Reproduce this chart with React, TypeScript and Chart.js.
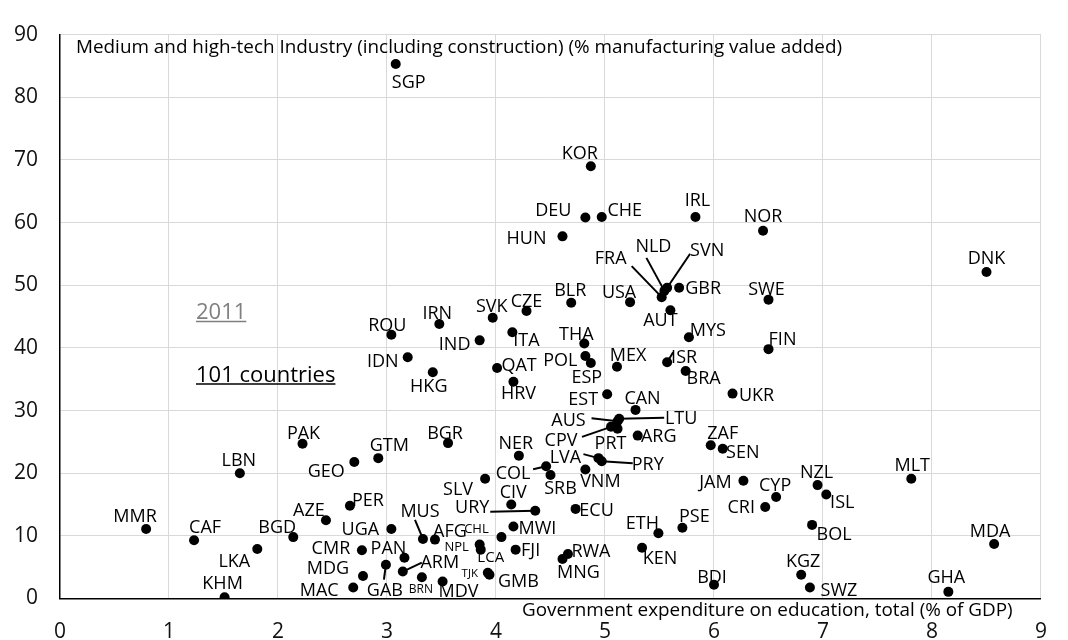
import React, { useEffect, useRef } from "react";
import { Chart, registerables } from "chart.js";

Chart.register(...registerables);

// ---------------- data ----------------
const countries = [
  "SGP", "KOR", "DEU", "CHE", "IRL", "NOR", "HUN", "FRA", "NLD", "SVN",
  "GBR", "DNK", "BLR", "USA", "SWE", "AUT", "CZE", "SVK", "IRN", "ROU",
  "IND", "ITA", "THA", "MYS", "FIN", "IDN", "HKG", "QAT", "POL", "ESP",
  "MEX", "ISR", "BRA", "HRV", "EST", "CAN", "UKR", "AUS", "LTU", "CPV",
  "PRT", "ARG", "ZAF", "SEN", "PAK", "BGR", "NER", "LBN", "GTM", "GEO",
  "LVA", "PRY", "COL", "SRB", "VNM", "SLV", "JAM", "NZL", "MLT", "CYP",
  "ISL", "CRI", "MMR", "PER", "AZE", "CIV", "URY", "ECU", "CAF", "BGD",
  "UGA", "MUS", "AFG", "CHL", "MWI", "ETH", "PSE", "BOL", "MDA", "NPL",
  "LCA", "FJI", "CMR", "PAN", "LKA", "ARM", "RWA", "KEN", "MNG", "MDG",
  "KGZ", "GAB", "TJK", "GMB", "BRN", "MDV", "MAC", "BDI", "SWZ", "GHA",
  "KHM",
];

// Government expenditure on education, total (% of GDP)
const eduExpenditure = [
  3.08, 4.87, 4.82, 4.97, 5.83, 6.45, 4.61, 5.52, 5.545, 5.57,
  5.68, 8.50, 4.69, 5.23, 6.50, 5.60, 4.28, 3.97, 3.48, 3.04,
  3.85, 4.15, 4.81, 5.77, 6.50, 3.19, 3.42, 4.01, 4.82, 4.87,
  5.11, 5.57, 5.74, 4.16, 5.02, 5.28, 6.17, 5.115, 5.13, 5.055,
  5.115, 5.30, 5.97, 6.08, 2.225, 3.56, 4.21, 1.65, 2.92, 2.70,
  4.94, 4.97, 4.46, 4.50, 4.82, 3.90, 6.27, 6.95, 7.81, 6.57,
  7.03, 6.47, 0.79, 2.66, 2.44, 4.14, 4.36, 4.73, 1.23, 2.14,
  3.04, 3.33, 3.44, 4.05, 4.16, 5.49, 5.71, 6.90, 8.57, 3.85,
  3.86, 4.18, 2.77, 3.16, 1.81, 3.145, 4.66, 5.34, 4.61, 2.78,
  6.80, 2.99, 3.925, 3.94, 3.32, 3.51, 2.69, 6.00, 6.88, 8.15,
  1.51,
];

// Medium and high-tech industry (% manufacturing value added)
const medHighTech = [
  85.3, 69.0, 60.8, 60.9, 60.9, 58.7, 57.8, 48.1, 49.1, 49.6,
  49.6, 52.1, 47.2, 47.3, 47.7, 46.0, 45.9, 44.8, 43.8, 42.1,
  41.2, 42.5, 40.7, 41.7, 39.8, 38.5, 36.1, 36.8, 38.7, 37.6,
  37.0, 37.7, 36.3, 34.6, 32.6, 30.1, 32.7, 28.3, 28.7, 27.4,
  27.1, 26.0, 24.45, 23.9, 24.7, 24.8, 22.8, 20.0, 22.4, 21.8,
  22.4, 21.9, 21.1, 19.7, 20.6, 19.1, 18.8, 18.1, 19.1, 16.2,
  16.6, 14.6, 11.1, 14.8, 12.5, 15.0, 14.0, 14.3, 9.3, 9.8,
  11.1, 9.5, 9.4, 9.8, 11.5, 10.4, 11.3, 11.75, 8.7, 8.6,
  7.8, 7.8, 7.7, 6.5, 7.9, 4.3, 7.1, 8.1, 6.3, 3.6,
  3.8, 5.4, 4.1, 3.8, 3.4, 2.7, 1.75, 2.2, 1.75, 1.06,
  0.2,
];

const xTickValues = [0, 1, 2, 3, 4, 5, 6, 7, 8, 9];
const yTickValues = [0, 10, 20, 30, 40, 50, 60, 70, 80, 90];

const xTitle = "Government expenditure on education, total (% of GDP)";
const yTitle =
  "Medium and high-tech Industry (including construction) (% manufacturing value added)";
const yearNote = "2011";
const countNote = "101 countries";

// ---------------- label styling (pixel offsets from each dot) ----------------
const FONT = '"Open Sans", "DejaVu Sans", sans-serif';
const LABEL_SIZE = 18;

const labelOffset: Record<string, number[]> = {
  SGP: [13, 18], KOR: [-11, -14], DEU: [-32, -8], CHE: [23, -7], IRL: [2, -17],
  NOR: [0, -15], HUN: [-36, 1], FRA: [-51, -40], NLD: [-11, -45], SVN: [40, -38],
  GBR: [24, 0], DNK: [0, -14], BLR: [-1, -13], USA: [-11, -11], SWE: [-2, -11],
  AUT: [-10, 9], CZE: [0, -10], SVK: [-1, -12], IRN: [-2, -11], ROU: [-4, -10],
  IND: [-25, 3], ITA: [14, 7], THA: [-8, -10], MYS: [19, -8], FIN: [14, -11],
  IDN: [-25, 3], HKG: [-4, 13], QAT: [22, -3], POL: [-25, 4], ESP: [-4, 14],
  MEX: [11, -12], ISR: [17, -6], BRA: [18, 7], HRV: [5, 11], EST: [-24, 4],
  CAN: [7, -12], UKR: [24, 1], AUS: [-49, -2], LTU: [62, -1], CPV: [-50, 13],
  PRT: [-7, 14], ARG: [21, 0], ZAF: [12, -13], SEN: [20, 3], PAK: [1, -11],
  BGR: [-3, -11], NER: [-3, -13], LBN: [-1, -14], GTM: [11, -14], GEO: [-28, 9],
  LVA: [-33, -2], PRY: [46, 2], COL: [-33, 6], SRB: [10, 13], VNM: [15, 11],
  SLV: [-27, 10], JAM: [-28, 1], NZL: [-1, -14], MLT: [1, -14], CYP: [-1, -12],
  ISL: [16, 7], CRI: [-24, 0], MMR: [-11, -13], PER: [18, -6], AZE: [-17, -11],
  CIV: [2, -13], URY: [-63, -4], ECU: [21, 1], CAF: [11, -14], BGD: [-16, -11],
  UGA: [-31, 0], MUS: [-3, -28], AFG: [15, -9], CHL: [-25, -9, 13], MWI: [24, 1],
  ETH: [-16, -11], PSE: [12, -12], BOL: [22, 9], MDA: [-4, -13], NPL: [-23, 2, 13],
  LCA: [10, 7, 15], FJI: [15, 0], CMR: [-31, -3], PAN: [-16, -10], LKA: [-23, 12],
  ARM: [37, -10], RWA: [23, -3], KEN: [18, 10], MNG: [16, 13], MDG: [-35, -8],
  KGZ: [2, -14], GAB: [-1, 25], TJK: [-18, 0, 11.5], GMB: [29, 6], BRN: [-1, 12, 12],
  MDV: [16, 9], MAC: [-34, 2], BDI: [-2, -8], SWZ: [29, 2], GHA: [-2, -15],
  KHM: [-2, -15],
};

const leaderEnd: Record<string, number[]> = {
  FRA: [-30, -31], NLD: [-18, -33], SVN: [23, -34], AUS: [-26, -3], LTU: [45, -1],
  CPV: [-29, 10], LVA: [-15, -4], PRY: [31, 2], COL: [-13, 3], URY: [-45, 1],
  MUS: [-8, -19], GAB: [-2, 15], ARM: [19, -9], ISR: [6, -10],
};

function fitFont(ctx: CanvasRenderingContext2D, text: string, width: number) {
  ctx.font = `20px ${FONT}`;
  const w = ctx.measureText(text).width;
  return (20 * width) / w;
}

const annotationPlugin = {
  id: "countryLabels",
  afterDatasetsDraw(chart: any) {
    const ctx: CanvasRenderingContext2D = chart.ctx;
    const meta = chart.getDatasetMeta(0);
    ctx.save();
    // leader lines
    ctx.strokeStyle = "#000";
    ctx.lineWidth = 2;
    meta.data.forEach((pt: any, i: number) => {
      const lead = leaderEnd[countries[i]];
      if (!lead) return;
      ctx.beginPath();
      ctx.moveTo(pt.x, pt.y);
      ctx.lineTo(pt.x + lead[0], pt.y + lead[1]);
      ctx.stroke();
    });
    // labels
    ctx.fillStyle = "#000";
    ctx.textAlign = "center";
    ctx.textBaseline = "alphabetic";
    meta.data.forEach((pt: any, i: number) => {
      const code = countries[i];
      const off = labelOffset[code] || [0, -14];
      const size = off[2] || LABEL_SIZE;
      ctx.font = `${size}px ${FONT}`;
      ctx.fillText(code, pt.x + off[0], pt.y + off[1] + 0.357 * size);
    });
    ctx.restore();
  },
  afterDraw(chart: any) {
    const ctx: CanvasRenderingContext2D = chart.ctx;
    const { top, bottom } = chart.chartArea;
    ctx.save();
    ctx.textAlign = "left";
    ctx.textBaseline = "alphabetic";
    ctx.fillStyle = "#000";
    // y title (inside top of plot)
    const ys = fitFont(ctx, yTitle, 767);
    ctx.font = `${ys}px ${FONT}`;
    ctx.fillText(yTitle, 76, top + 18.5);
    // x title (just under axis)
    const xs = fitFont(ctx, xTitle, 491);
    ctx.font = `${xs}px ${FONT}`;
    ctx.fillText(xTitle, 522, bottom + 17.5);

    // notes
    const drawUnderlined = (t: string, x: number, y: number, color: string) => {
      ctx.font = `22px ${FONT}`;
      ctx.fillStyle = color;
      ctx.fillText(t, x, y);
      const w = ctx.measureText(t).width;
      ctx.strokeStyle = color;
      ctx.lineWidth = 1.5;
      ctx.beginPath();
      ctx.moveTo(x, y + 2.5);
      ctx.lineTo(x + w, y + 2.5);
      ctx.stroke();
    };
    drawUnderlined(yearNote, 196, 319, "#7f7f7f");
    drawUnderlined(countNote, 196, 381.5, "#000");
    ctx.restore();
  },
};

export default function App() {
  const canvasRef = useRef<HTMLCanvasElement | null>(null);

  useEffect(() => {
    if (!canvasRef.current) return;
    const points = eduExpenditure.map((x, i) => ({ x, y: medHighTech[i] }));
    const chart = new Chart(canvasRef.current, {
      type: "scatter",
      data: {
        datasets: [
          {
            data: points,
            backgroundColor: "#000",
            borderColor: "#000",
            borderWidth: 0,
            pointRadius: 5,
          },
        ],
      },
      options: {
        animation: false,
        responsive: true,
        maintainAspectRatio: false,
        layout: { padding: { left: 0, right: 8, top: 23, bottom: 0 } },
        plugins: {
          legend: { display: false },
          tooltip: { enabled: false },
          title: { display: false },
        },
        scales: {
          x: {
            type: "linear",
            min: 0,
            max: 9,
            afterBuildTicks: (axis: any) => {
              axis.ticks = xTickValues.map((v) => ({ value: v }));
            },
            afterFit: (s: any) => {
              s.height = 41.5;
            },
            grid: {
              color: (c: any) => (c.tick && c.tick.value === 0 ? "rgba(0,0,0,0)" : "#d9d9d9"),
              lineWidth: 1,
              drawTicks: false,
            },
            border: { display: true, color: "#000", width: 1.5 },
            ticks: {
              font: { family: FONT, size: 21 },
              color: "#111",
              padding: 21,
              maxRotation: 0,
            },
          },
          y: {
            type: "linear",
            min: 0,
            max: 90,
            afterBuildTicks: (axis: any) => {
              axis.ticks = yTickValues.map((v) => ({ value: v }));
            },
            afterFit: (s: any) => {
              s.width = 60;
            },
            grid: {
              color: (c: any) => (c.tick && c.tick.value === 0 ? "rgba(0,0,0,0)" : "#d9d9d9"),
              lineWidth: 1,
              drawTicks: false,
            },
            border: { display: true, color: "#000", width: 1.5 },
            ticks: {
              font: { family: FONT, size: 21 },
              color: "#111",
              padding: 22,
            },
          },
        },
      },
      plugins: [annotationPlugin],
    });
    return () => chart.destroy();
  }, []);

  return (
    <div
      style={{
        position: "fixed",
        left: 0,
        top: 0,
        width: 1068,
        height: 640,
        background: "#fff",
      }}
    >
      <canvas ref={canvasRef} />
    </div>
  );
}
